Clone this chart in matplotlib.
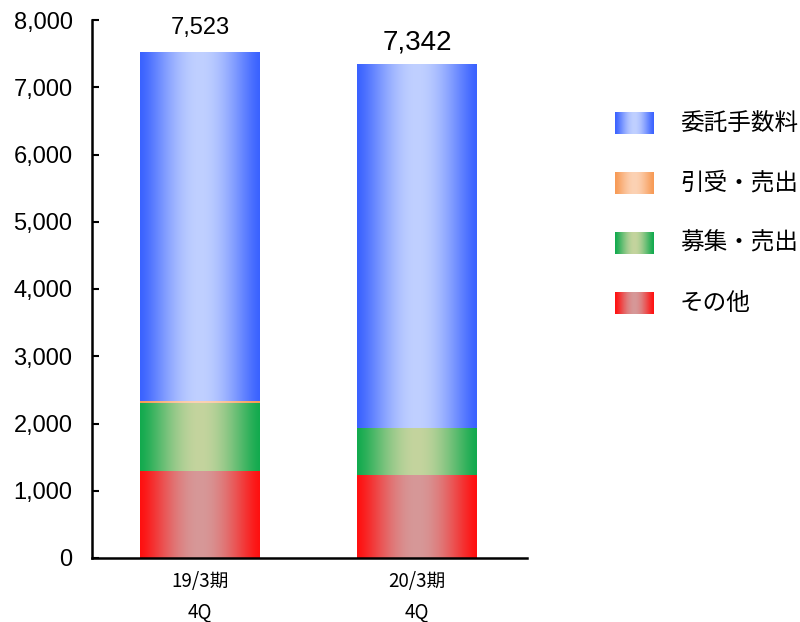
import numpy as np
import matplotlib
matplotlib.use("Agg")
import matplotlib.pyplot as plt
from matplotlib.colors import to_rgb
from matplotlib.ticker import FuncFormatter

plt.rcParams['font.family'] = ['Liberation Sans', 'Noto Sans CJK JP', 'DejaVu Sans']

# data
periods = ["19/3期\n4Q", "20/3期\n4Q"]
series = ["その他", "募集・売出", "引受・売出", "委託手数料"]
sonota = [1294, 1234]
boshu = [1011, 699]
hikiuke = [30, 2]
itaku = [5188, 5407]
totals = [7523, 7342]

# edge colour, centre colour of the horizontal gradients
grad = {
    "その他": ("#FF1010", "#D69898"),
    "募集・売出": ("#12AA4E", "#C4D49E"),
    "引受・売出": ("#F79A55", "#FCD2B4"),
    "委託手数料": ("#3A62FF", "#C0D0FF"),
}


def gradient_img(edge, centre, n=256):
    x = np.linspace(0, 1, n)
    w = np.sin(np.pi * x) ** 1.3
    e = np.array(to_rgb(edge)); c = np.array(to_rgb(centre))
    img = e[None, :] * (1 - w[:, None]) + c[None, :] * w[:, None]
    return img[None, :, :]


fig = plt.figure(figsize=(8, 6.22), dpi=100)
ax = fig.add_axes([92 / 800, 1 - 558 / 622, (527 - 92) / 800, (558 - 20) / 622])

x = np.arange(len(periods))
width = 0.553
bottom = np.zeros(len(periods))
for name, vals in zip(series, [sonota, boshu, hikiuke, itaku]):
    bars = ax.bar(x, vals, width, bottom=bottom, color="none", linewidth=0)
    img = gradient_img(*grad[name])
    for b in bars:
        if b.get_height() <= 0:
            continue
        x0, y0 = b.get_x(), b.get_y()
        im = ax.imshow(img, extent=(x0, x0 + b.get_width(), y0, y0 + b.get_height()),
                       aspect="auto", interpolation="bilinear", zorder=2)
        im.set_clip_path(b)
    bottom += np.array(vals)

# totals above the bars
ax.text(x[0], totals[0] + 200, f"{totals[0]:,}", ha="center", va="bottom", fontsize=17)
ax.text(x[1], totals[1] + 130, f"{totals[1]:,}", ha="center", va="bottom", fontsize=20)

ax.set_xlim(-0.498, 1.507)
ax.set_ylim(0, 8000)
ax.set_yticks(np.arange(0, 8001, 1000))
ax.yaxis.set_major_formatter(FuncFormatter(lambda v, p: f"{int(v):,}"))
ax.tick_params(axis="y", direction="in", length=5, width=1.5, labelsize=17, pad=14)
ax.set_xticks(x)
ax.set_xticklabels(periods, fontsize=13.5, linespacing=1.6,
                   family=['Noto Sans CJK JP', 'DejaVu Sans'])
ax.tick_params(axis="x", length=0, pad=9)
for s in ["top", "right"]:
    ax.spines[s].set_visible(False)
for s in ["left", "bottom"]:
    ax.spines[s].set_linewidth(1.8)

# legend, drawn as gradient swatches
lax = fig.add_axes([0, 0, 1, 1], facecolor="none")
lax.axis("off")
leg_y = [123, 183, 243, 303]
for name, yc in zip(series[::-1], leg_y):
    img = gradient_img(*grad[name])
    lax.imshow(img, extent=(615, 654, yc + 11, yc - 11), aspect="auto", interpolation="bilinear")
    lax.text(680, yc, name, va="center", ha="left", fontsize=17,
             family=['Noto Sans CJK JP', 'DejaVu Sans'])
lax.set_xlim(0, 800)
lax.set_ylim(622, 0)

fig.savefig("out.png", dpi=100)
